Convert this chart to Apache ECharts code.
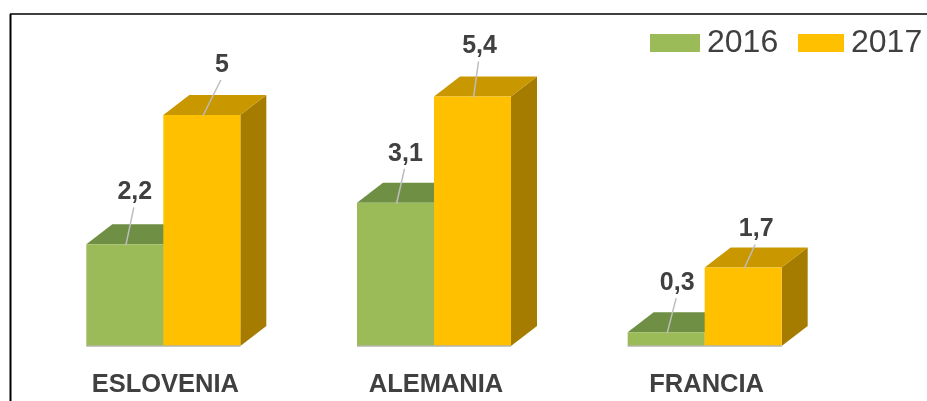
<!DOCTYPE html>
<html>
<head>
<meta charset="utf-8">
<style>html,body{margin:0;padding:0;background:#fff}#c{width:927px;height:401px}</style>
<script src="https://cdn.jsdelivr.net/npm/echarts@6/dist/echarts.min.js"></script>
</head>
<body>
<div id="c"></div>
<script>
var categories = ['ESLOVENIA', 'ALEMANIA', 'FRANCIA'];
var seriesNames = ['2016', '2017'];
var values2016 = [2.2, 3.1, 0.3];
var values2017 = [5, 5.4, 1.7];

// Layout only (pixels), not data
var labelOffsetX2016 = [10, 10, 11];
var labelOffsetX2017 = [20, 7, 13];
var labelOffsetY2016 = [-54, -51, -51];
var labelOffsetY2017 = [-52, -52, -40];
var FONT = '"Liberation Sans", Arial, sans-serif';
var DEPTH_X = 26, DEPTH_Y = 20, BAR_RATIO = 0.2845;

function fmt(v) { return String(v).replace('.', ','); }

function makeRender(side, colors, offX, offY) {
  return function (params, api) {
    var i = api.value(0), v = api.value(1);
    var top = api.coord([i, v]), base = api.coord([i, 0]);
    var w = api.size([1, 0])[0] * BAR_RATIO;
    var x0 = side < 0 ? top[0] - w : top[0], x1 = x0 + w;
    var yt = top[1], yb = base[1];
    var cx = (x0 + x1) / 2;
    var lx = cx + offX[i], ly = yt + offY[i];
    return {
      type: 'group',
      children: [
        { type: 'polygon', shape: { points: [[x1, yt], [x1 + DEPTH_X, yt - DEPTH_Y], [x1 + DEPTH_X, yb - DEPTH_Y], [x1, yb]] }, style: { fill: colors.side } },
        { type: 'polygon', shape: { points: [[x0, yt], [x0 + DEPTH_X, yt - DEPTH_Y], [x1 + DEPTH_X, yt - DEPTH_Y], [x1, yt]] }, style: { fill: colors.top } },
        { type: 'rect', shape: { x: x0, y: yt, width: w, height: yb - yt }, style: { fill: colors.front } },
        { type: 'line', shape: { x1: x0, y1: yb, x2: x1, y2: yb }, style: { stroke: '#b5b5a8', lineWidth: 1.5 } },
        { type: 'line', shape: { x1: cx + 1, y1: yt + 1, x2: lx - 1, y2: ly + 17 }, style: { stroke: '#bdbdbd', lineWidth: 1.5 } },
        { type: 'text', style: { x: lx, y: ly + 2, text: fmt(v), fill: '#404040', font: 'bold 25px ' + FONT, textAlign: 'center', textVerticalAlign: 'middle' } }
      ]
    };
  };
}

function toRows(vals) { return vals.map(function (v, i) { return [i, v]; }); }

var chart = echarts.init(document.getElementById('c'), null, { renderer: 'canvas' });
chart.setOption({
  animation: false,
  backgroundColor: '#fff',
  grid: { left: 28, right: 87, top: 22.6, bottom: 55 },
  xAxis: {
    type: 'category',
    data: categories,
    axisLine: { show: false },
    axisTick: { show: false },
    axisLabel: { color: '#404040', fontFamily: FONT, fontWeight: 'bold', fontSize: 25.5, margin: 26, interval: 0, padding: [0, 0, 0, 4] }
  },
  yAxis: { type: 'value', min: 0, max: 7, show: false, splitLine: { show: false } },
  legend: [
    { left: 650, top: 27, itemWidth: 50, itemHeight: 18, itemGap: 0, data: [{ name: seriesNames[0], icon: 'rect' }],
      textStyle: { color: '#404040', fontFamily: FONT, fontSize: 32, padding: [0, 0, 0, 2] }, padding: 0 },
    { left: 798, top: 27, itemWidth: 46, itemHeight: 18, itemGap: 0, data: [{ name: seriesNames[1], icon: 'rect' }],
      textStyle: { color: '#404040', fontFamily: FONT, fontSize: 32, padding: [0, 0, 0, 2] }, padding: 0 }
  ],
  graphic: [
    { type: 'line', shape: { x1: 10.5, y1: 14, x2: 10.5, y2: 401 }, style: { stroke: '#000', lineWidth: 2 }, z: 100 },
    { type: 'line', shape: { x1: 10, y1: 14, x2: 927, y2: 14 }, style: { stroke: '#000', lineWidth: 1.5 }, z: 100 }
  ],
  series: [
    { type: 'custom', name: seriesNames[0], data: toRows(values2016), encode: { x: 0, y: 1 }, itemStyle: { color: '#9bbb59' },
      renderItem: makeRender(-1, { front: '#9bbb59', top: '#6f8f45', side: '#6f8f45' }, labelOffsetX2016, labelOffsetY2016) },
    { type: 'custom', name: seriesNames[1], data: toRows(values2017), encode: { x: 0, y: 1 }, itemStyle: { color: '#ffc000' },
      renderItem: makeRender(1, { front: '#ffc000', top: '#c99700', side: '#a67c00' }, labelOffsetX2017, labelOffsetY2017) }
  ]
});
</script>
</body>
</html>
